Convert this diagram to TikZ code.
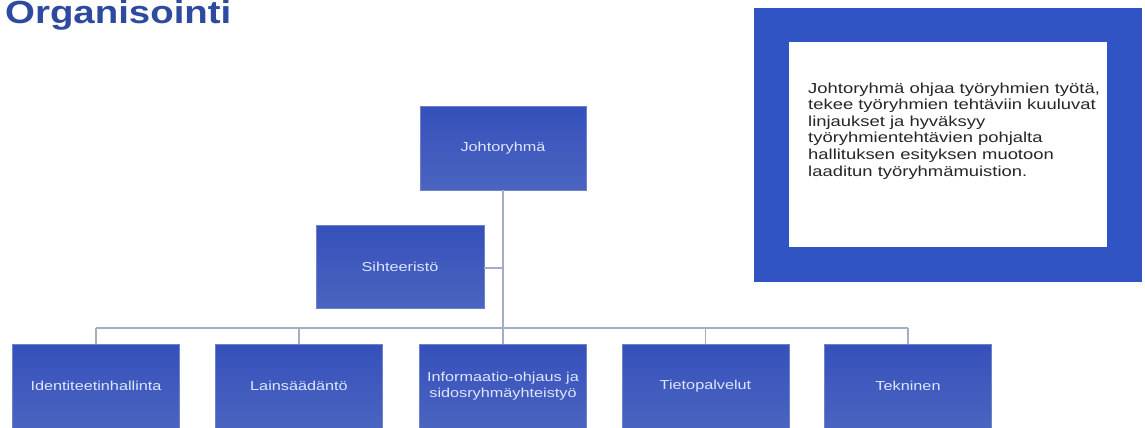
\documentclass[tikz,border=0pt]{standalone}
\usepackage{fontspec}
\setmainfont{Liberation Sans}
\newfontfamily\titlefont[FakeStretch=1.2]{Liberation Sans}
\newfontfamily\boxfont[FakeStretch=1.25]{Liberation Sans}
\newfontfamily\notefont[FakeStretch=1.27]{Liberation Sans}
\definecolor{titleblue}{RGB}{46,74,160}
\definecolor{boxtop}{RGB}{54,80,188}
\definecolor{boxbot}{RGB}{74,100,192}
\definecolor{boxedge}{RGB}{110,130,200}
\definecolor{boxtext}{RGB}{222,230,255}
\definecolor{linecol}{RGB}{165,172,200}
\definecolor{panelblue}{RGB}{48,84,196}
\tikzset{
  orgbox/.style={rectangle, inner sep=0pt, top color=boxtop, bottom color=boxbot,
    draw=boxedge, line width=0.6pt, minimum height=84pt, minimum width=167pt,
    text=boxtext, align=center, font=\boxfont\fontsize{13}{16}\selectfont},
  conn/.style={draw=linecol, line width=1.4pt}
}
\begin{document}
\begin{tikzpicture}[x=1pt,y=-1pt]
\useasboundingbox (0,0) rectangle (1145,428);
\fill[white] (0,0) rectangle (1145,428);
% title
\node[anchor=base west, inner sep=0pt, text=titleblue, font=\titlefont\bfseries\fontsize{32}{36}\selectfont] (title) at (5,24) {Organisointi};
% right panel
\node[rectangle, fill=panelblue, minimum width=388pt, minimum height=274pt, inner sep=0pt] (panel) at (948,145) {};
\node[rectangle, fill=white, minimum width=318pt, minimum height=205pt, inner sep=0pt] (inner) at (948,144.5) {};
\node[anchor=north west, inner sep=0pt, align=left, text=black!85,
  font=\notefont\fontsize{14.5}{16.6}\selectfont] (note) at (808,82.3)
  {Johtoryhmä ohjaa työryhmien työtä,\\tekee työryhmien tehtäviin kuuluvat\\linjaukset ja hyväksyy\\työryhmientehtävien pohjalta\\hallituksen esityksen muotoon\\laaditun työryhmämuistion.};
% boxes
\node[orgbox, minimum width=166pt] (J) at (503,148) {Johtoryhmä};
\node[orgbox, minimum width=168pt, minimum height=83pt] (S) at (400,266.5) {Sihteeristö};
\node[orgbox] (B1) at (96,386) {Identiteetinhallinta};
\node[orgbox] (B2) at (299,386) {Lainsäädäntö};
\node[orgbox] (B3) at (503,386) {Informaatio-ohjaus ja\\sidosryhmäyhteistyö};
\node[orgbox] (B4) at (705.5,386) {Tietopalvelut};
\node[orgbox] (B5) at (908,386) {Tekninen};
% connectors
\coordinate (bus) at (503,328);
\draw[conn] (J.south) -- (bus);
\draw[conn] (S.east |- 0,268) -- (bus |- 0,268);
\draw[conn] (B1.north |- bus) -- (B5.north |- bus);
\foreach \b in {B1,B2,B3,B4,B5}{
  \draw[conn] (\b.north |- bus) -- (\b.north);
}
\end{tikzpicture}
\end{document}
